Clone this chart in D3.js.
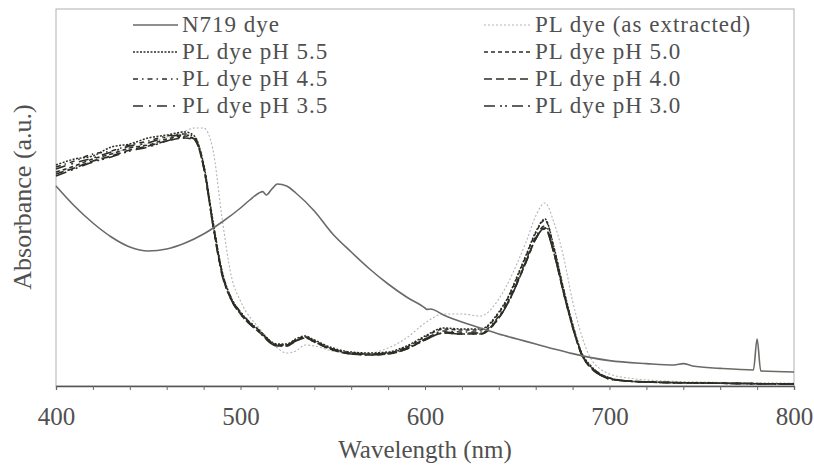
<!DOCTYPE html>
<html>
<head>
<meta charset="utf-8">
<script src="https://cdn.jsdelivr.net/npm/d3@7"></script>
<style>
  body { margin: 0; background: #fff; }
  svg { display: block; font-family: "Liberation Serif", "DejaVu Serif", serif; }
</style>
</head>
<body>
<div id="chartArea"><svg id="chart"></svg></div>
<script>
// wavelengths (nm) used for the PL dye spectra
const plWave = [400, 410, 420, 430, 440, 450, 460, 470, 475, 480, 485, 490, 495, 500, 510, 520, 525, 530, 535, 540,
  550, 560, 570, 580, 590, 600, 610, 620, 630, 640, 645, 650, 655, 660, 665, 670, 675, 680, 685, 690,
  695, 700, 710, 720, 750, 800];

const plExtracted = [1.065, 1.095, 1.125, 1.16, 1.19, 1.215, 1.245, 1.275, 1.29, 1.29, 1.185, 0.84, 0.55, 0.425, 0.29, 0.19, 0.165, 0.175, 0.205, 0.2,
  0.175, 0.165, 0.165, 0.19, 0.24, 0.315, 0.36, 0.36, 0.35, 0.435, 0.515, 0.615, 0.725, 0.85, 0.915, 0.815, 0.65, 0.425, 0.25, 0.135,
  0.085, 0.06, 0.04, 0.03, 0.02, 0.015];
const plPH55 = [1.105, 1.135, 1.15, 1.195, 1.21, 1.24, 1.255, 1.27, 1.25, 1.11, 0.83, 0.575, 0.44, 0.37, 0.28, 0.21, 0.21, 0.235, 0.25, 0.23,
  0.19, 0.17, 0.165, 0.17, 0.2, 0.25, 0.29, 0.285, 0.285, 0.37, 0.445, 0.55, 0.66, 0.77, 0.835, 0.69, 0.49, 0.31, 0.165, 0.1,
  0.06, 0.04, 0.025, 0.02, 0.015, 0.01];
const plPH50 = [1.07, 1.1, 1.135, 1.16, 1.19, 1.205, 1.235, 1.25, 1.235, 1.1, 0.815, 0.565, 0.435, 0.365, 0.275, 0.205, 0.205, 0.23, 0.245, 0.225,
  0.185, 0.165, 0.16, 0.165, 0.195, 0.245, 0.285, 0.28, 0.28, 0.365, 0.44, 0.545, 0.655, 0.765, 0.83, 0.685, 0.485, 0.305, 0.16, 0.095,
  0.06, 0.04, 0.025, 0.02, 0.015, 0.01];
const plPH45 = [1.095, 1.125, 1.16, 1.175, 1.205, 1.225, 1.25, 1.26, 1.245, 1.105, 0.82, 0.57, 0.44, 0.37, 0.28, 0.205, 0.205, 0.23, 0.245, 0.225,
  0.185, 0.165, 0.16, 0.165, 0.19, 0.235, 0.275, 0.27, 0.27, 0.35, 0.425, 0.525, 0.635, 0.745, 0.80, 0.67, 0.475, 0.3, 0.16, 0.095,
  0.06, 0.04, 0.025, 0.02, 0.015, 0.01];
const plPH40 = [1.06, 1.09, 1.125, 1.15, 1.18, 1.2, 1.225, 1.24, 1.23, 1.095, 0.81, 0.56, 0.43, 0.36, 0.27, 0.2, 0.2, 0.225, 0.24, 0.22,
  0.18, 0.16, 0.155, 0.16, 0.185, 0.23, 0.265, 0.26, 0.26, 0.34, 0.415, 0.515, 0.625, 0.735, 0.79, 0.66, 0.47, 0.295, 0.155, 0.09,
  0.055, 0.035, 0.025, 0.02, 0.015, 0.01];
const plPH35 = [1.085, 1.115, 1.14, 1.17, 1.2, 1.215, 1.245, 1.255, 1.24, 1.1, 0.815, 0.565, 0.435, 0.365, 0.275, 0.205, 0.205, 0.23, 0.245, 0.225,
  0.185, 0.165, 0.16, 0.165, 0.19, 0.235, 0.27, 0.265, 0.265, 0.345, 0.42, 0.52, 0.63, 0.74, 0.785, 0.66, 0.47, 0.295, 0.155, 0.09,
  0.055, 0.035, 0.025, 0.02, 0.015, 0.01];
const plPH30 = [1.05, 1.085, 1.12, 1.145, 1.175, 1.195, 1.225, 1.245, 1.235, 1.095, 0.805, 0.555, 0.43, 0.36, 0.27, 0.2, 0.2, 0.225, 0.24, 0.22,
  0.18, 0.16, 0.155, 0.16, 0.185, 0.23, 0.265, 0.26, 0.26, 0.34, 0.415, 0.515, 0.625, 0.735, 0.79, 0.66, 0.47, 0.295, 0.155, 0.09,
  0.055, 0.035, 0.025, 0.02, 0.015, 0.01];

// N719 reference dye
const n719Wave = [400, 410, 420, 430, 440, 450, 460, 470, 480, 490, 500, 505, 510, 512, 514, 517, 520, 525, 530, 540,
  550, 560, 570, 580, 590, 600, 601, 603, 610, 620, 630, 640, 650, 660, 670, 680, 690, 700, 720, 735,
  740, 745, 760, 778, 780, 782, 800];
const n719 = [1.0, 0.9, 0.815, 0.745, 0.695, 0.675, 0.685, 0.715, 0.76, 0.82, 0.89, 0.93, 0.965, 0.972, 0.955, 0.985, 1.01, 1.0, 0.965, 0.875,
  0.76, 0.67, 0.585, 0.51, 0.445, 0.39, 0.383, 0.385, 0.355, 0.32, 0.29, 0.26, 0.235, 0.21, 0.185, 0.162, 0.142, 0.127, 0.112, 0.105,
  0.112, 0.1, 0.088, 0.08, 0.235, 0.075, 0.07];

const xTicks = [400, 500, 600, 700, 800];

const series = [
  { name: "N719 dye", wave: n719Wave, vals: n719, color: "#6a6a66", dash: null, w: 1.6, col: 0, row: 0 },
  { name: "PL dye (as extracted)", wave: plWave, vals: plExtracted, color: "#b4b4b8", dash: "2,2", w: 1.1, col: 1, row: 0 },
  { name: "PL dye pH 5.5", wave: plWave, vals: plPH55, color: "#2c2e26", dash: "2,1.5", w: 1.5, col: 0, row: 1 },
  { name: "PL dye pH 5.0", wave: plWave, vals: plPH50, color: "#2c2e26", dash: "4,3", w: 1.5, col: 1, row: 1 },
  { name: "PL dye pH 4.5", wave: plWave, vals: plPH45, color: "#2c2e26", dash: "5,4,1.5,4", w: 1.5, col: 0, row: 2 },
  { name: "PL dye pH 4.0", wave: plWave, vals: plPH40, color: "#2c2e26", dash: "8,4", w: 1.6, col: 1, row: 2 },
  { name: "PL dye pH 3.5", wave: plWave, vals: plPH35, color: "#2c2e26", dash: "10,6,2,6", w: 1.6, col: 0, row: 3 },
  { name: "PL dye pH 3.0", wave: plWave, vals: plPH30, color: "#2c2e26", dash: "11,5,2,3,2,5", w: 1.6, col: 1, row: 3 }
];

const width = 814, height = 466;
const margin = { top: 9, left: 56, bottom: 80, right: 20 };
const iwidth = width - margin.left - margin.right;
const iheight = height - margin.top - margin.bottom;

const svg = d3.select("#chart").attr("width", width).attr("height", height);
const g = svg.append("g").attr("transform", `translate(${margin.left},${margin.top})`);

const x = d3.scaleLinear().domain([400, 800]).range([0, iwidth]);
const y = d3.scaleLinear().domain([0, 1.885]).range([iheight, 0]);

// frame
g.append("rect")
  .attr("width", iwidth).attr("height", iheight)
  .attr("fill", "none").attr("stroke", "#b0b0b0").attr("stroke-width", 1);

// bottom axis, minor ticks every 20 nm
const xAxis = g.append("g")
  .attr("transform", `translate(0,${iheight})`)
  .call(d3.axisBottom(x).tickValues(d3.range(400, 801, 20)).tickSize(4).tickFormat(""));
xAxis.select(".domain").attr("stroke", "#555").attr("stroke-width", 1.3);
xAxis.selectAll(".tick line").attr("stroke", "#666");

g.append("g")
  .attr("transform", `translate(0,${iheight})`)
  .call(d3.axisBottom(x).tickValues(xTicks).tickSize(0).tickPadding(21).tickFormat(d3.format("d")))
  .call(a => a.select(".domain").remove())
  .selectAll("text")
  .attr("font-family", "Liberation Serif")
  .attr("font-size", 25)
  .attr("fill", "#505050");

svg.append("text")
  .attr("x", 425).attr("y", 458)
  .attr("text-anchor", "middle")
  .attr("font-size", 25).attr("fill", "#505050")
  .text("Wavelength (nm)");

svg.append("text")
  .attr("transform", "translate(31,197) rotate(-90)")
  .attr("text-anchor", "middle")
  .attr("font-size", 26).attr("fill", "#505050")
  .text("Absorbance (a.u.)");

const line = d3.line()
  .x(d => x(d[0]))
  .y(d => y(d[1]))
  .curve(d3.curveMonotoneX);

// draw PL first, N719 on top
const order = [1, 2, 3, 4, 5, 6, 7, 0];
order.forEach(i => {
  const s = series[i];
  g.append("path")
    .datum(s.wave.map((w, k) => [w, s.vals[k]]))
    .attr("fill", "none")
    .attr("stroke", s.color)
    .attr("stroke-width", s.w)
    .attr("stroke-dasharray", s.dash)
    .attr("d", line);
});

// legend
const legCols = [{ x0: 133, x1: 178, tx: 182 }, { x0: 484, x1: 531, tx: 535 }];
const legRows = [25, 52, 79, 106];
const leg = svg.append("g");
series.forEach(s => {
  const c = legCols[s.col], yy = legRows[s.row];
  leg.append("line")
    .attr("x1", c.x0).attr("x2", c.x1).attr("y1", yy).attr("y2", yy)
    .attr("stroke", s.color).attr("stroke-width", s.w)
    .attr("stroke-dasharray", s.dash);
  leg.append("text")
    .attr("x", c.tx).attr("y", yy + 7)
    .attr("font-size", 23).attr("letter-spacing", 1).attr("fill", "#505050")
    .text(s.name);
});
</script>
</body>
</html>
